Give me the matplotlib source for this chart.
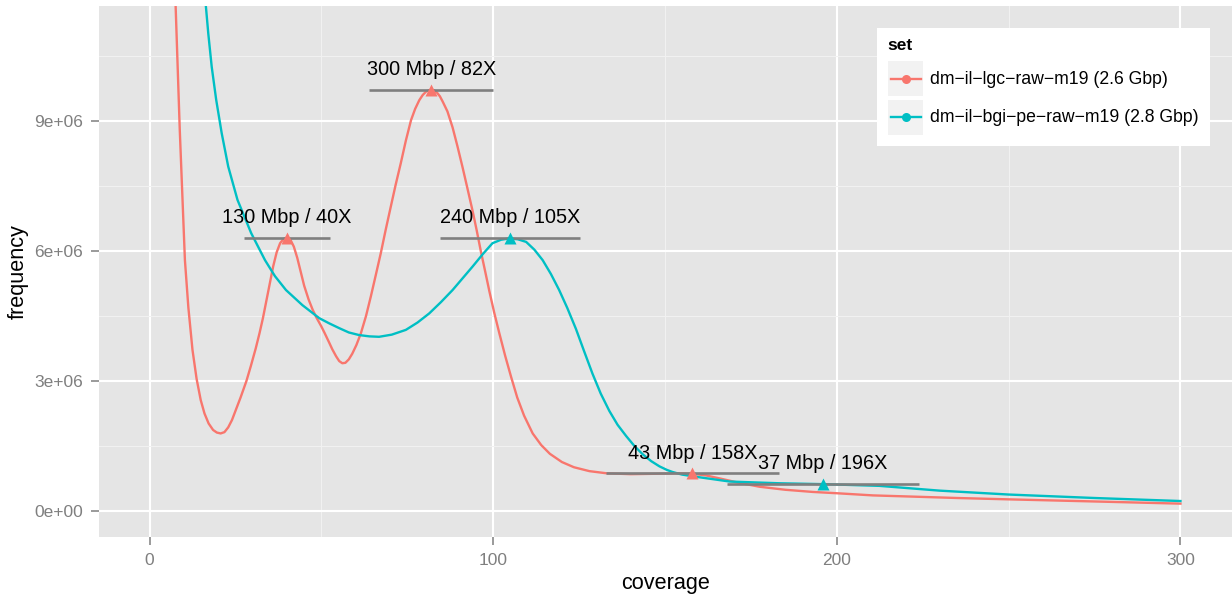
import matplotlib
matplotlib.use("Agg")
import matplotlib.pyplot as plt
from matplotlib.lines import Line2D
from matplotlib.patches import Rectangle
from matplotlib.ticker import FuncFormatter, MultipleLocator

plt.rcParams['font.family'] = ['Liberation Sans', 'DejaVu Sans']

set_names = ["dm−il−lgc−raw−m19 (2.6 Gbp)", "dm−il−bgi−pe−raw−m19 (2.8 Gbp)"]
set_colors = ["#F8766D", "#00BFC4"]

# k-mer coverage spectra (frequency in millions)
lgc_cov = [7.3, 7.6, 8.8, 10.3, 11.3, 12.5, 13.7, 14.9, 16.0, 17.2, 18.5, 19.6,
           20.7, 21.8, 22.9, 24.0, 25.2, 26.5, 28.2, 29.5, 30.9, 32.0, 33.0,
           34.0, 35.0, 36.0, 37.0, 38.0, 39.0, 40.0, 41.0, 42.0, 43.0, 44.0,
           45.0, 46.3, 47.5, 48.6, 50.0, 51.0, 52.2, 53.2, 54.3, 55.2, 56.1,
           57.0, 58.0, 59.0, 60.2, 61.5, 63.0, 64.4, 65.8, 67.3, 68.7, 70.2,
           71.6, 73.1, 74.6, 76.1, 77.3, 78.5, 79.5, 80.5, 81.3, 82.0, 82.8,
           83.6, 84.5, 85.3, 86.7, 88.2, 89.6, 91.1, 92.5, 94.0, 95.2, 96.4,
           97.7, 98.9, 100.3, 101.8, 103.5, 105.2, 107.0, 109.0, 111.5, 114.0,
           116.5, 120.0, 123.5, 128.0, 133.0, 140.0, 148.0, 154.0, 158.0,
           162.0, 166.0, 171.0, 177.5, 185.0, 193.0, 200.0, 210.5, 222.9,
           235.0, 249.4, 275.0, 300.0]
lgc_freq = [12.4, 11.65, 8.8, 5.79, 4.70, 3.72, 3.05, 2.56, 2.25, 2.02, 1.87, 1.81,
            1.79, 1.82, 1.93, 2.10, 2.35, 2.62, 3.00, 3.35, 3.75, 4.10, 4.45,
            4.85, 5.25, 5.65, 5.97, 6.18, 6.28, 6.31, 6.26, 6.10, 5.84, 5.52,
            5.20, 4.88, 4.64, 4.46, 4.26, 4.10, 3.90, 3.73, 3.57, 3.46, 3.41,
            3.42, 3.50, 3.63, 3.83, 4.10, 4.50, 4.95, 5.43, 5.95, 6.48, 7.02,
            7.52, 8.02, 8.55, 9.02, 9.28, 9.48, 9.60, 9.68, 9.71, 9.72, 9.71,
            9.66, 9.57, 9.45, 9.22, 8.85, 8.42, 7.93, 7.45, 6.93, 6.48, 6.00,
            5.52, 5.07, 4.58, 4.10, 3.58, 3.10, 2.62, 2.20, 1.79, 1.52,
            1.32, 1.13, 1.01, 0.92, 0.87, 0.85, 0.86, 0.87, 0.86,
            0.82, 0.75, 0.66, 0.56, 0.49, 0.44, 0.41, 0.36, 0.33,
            0.30, 0.27, 0.22, 0.17]

bgi_cov = [16.0, 16.4, 17.1, 18.1, 19.4, 21.0, 22.9, 25.6, 29.6, 33.6, 36.5,
           39.7, 44.5, 49.4, 52.3, 55.2, 58.0, 61.0, 64.0, 66.8, 70.5, 74.6,
           78.0, 81.4, 84.8, 88.2, 91.1, 94.0, 97.0, 99.8, 102.3, 104.7, 107.2,
           109.6, 112.0, 114.4, 116.8, 119.2, 121.6, 124.1, 126.5, 128.9,
           131.3, 133.8, 136.2, 138.7, 141.1, 143.5, 146.0, 148.4, 150.5, 152.2,
           155.0, 159.0, 168.8, 183.3, 195.9, 212.4, 229.9, 250.0, 275.0, 300.0]
bgi_freq = [12.4, 11.65, 11.02, 10.25, 9.49, 8.72, 7.95, 7.18, 6.41, 5.79, 5.42,
            5.10, 4.75, 4.45, 4.33, 4.22, 4.12, 4.06, 4.03, 4.02, 4.07, 4.18,
            4.35, 4.56, 4.82, 5.10, 5.37, 5.64, 5.93, 6.18, 6.26, 6.29, 6.27,
            6.21, 6.03, 5.79, 5.47, 5.10, 4.68, 4.20, 3.68, 3.17,
            2.71, 2.31, 1.99, 1.73, 1.50, 1.31, 1.15, 1.03, 0.95, 0.90,
            0.84, 0.79, 0.68, 0.64, 0.62, 0.58, 0.47, 0.38, 0.30, 0.23]

# detected peaks
peak_set = [0, 0, 1, 0, 1]
peak_cov = [40, 82, 105, 158, 196]
peak_freq = [6.31, 9.72, 6.31, 0.87, 0.62]
peak_halfwidth = [12.6, 18.0, 20.4, 25.1, 28.0]
peak_labels = ["130 Mbp / 40X", "300 Mbp / 82X", "240 Mbp / 105X",
               "43 Mbp / 158X", "37 Mbp / 196X"]

W, H = 1232, 597
fig = plt.figure(figsize=(W / 100, H / 100), dpi=100)
ax = fig.add_axes([99 / W, 1 - 537 / H, (W - 99) / W, (537 - 6) / H])
ax.set_facecolor("#E5E5E5")
for s in ax.spines.values():
    s.set_visible(False)

series = [(lgc_cov, lgc_freq), (bgi_cov, bgi_freq)]
for (cov, freq), col in zip(series, set_colors):
    ax.plot(cov, [f * 1e6 for f in freq], color=col, lw=1.7, zorder=3,
            solid_joinstyle="round")

for i in range(len(peak_cov)):
    x, y = peak_cov[i], peak_freq[i] * 1e6
    ax.plot([x - peak_halfwidth[i], x + peak_halfwidth[i]], [y, y],
            color="#7F7F7F", lw=1.9, zorder=4, solid_capstyle="butt")
    ax.plot(x, y, marker="^", ms=8, color=set_colors[peak_set[i]],
            mec="none", zorder=5)
    ax.annotate(peak_labels[i], (x, y), xytext=(0, 14.5),
                textcoords="offset points", ha="center", va="center",
                fontsize=14.3, color="black", zorder=6)

ax.set_xlim(-14.7, 315.0)
ax.set_ylim(-0.6e6, 11.654e6)
ax.xaxis.set_major_locator(MultipleLocator(100))
ax.xaxis.set_minor_locator(MultipleLocator(50))
ax.yaxis.set_major_locator(MultipleLocator(3e6))
ax.yaxis.set_minor_locator(MultipleLocator(1.5e6))
ax.yaxis.set_major_formatter(FuncFormatter(lambda v, p: f"{v:.0e}"))
ax.grid(which="major", color="white", lw=1.5)
ax.grid(which="minor", color="#F2F2F2", lw=0.7)
ax.set_axisbelow(True)
ax.tick_params(which="major", length=6, width=1.1, color="#7F7F7F",
               labelcolor="#7F7F7F", labelsize=12.5, pad=5.5)
ax.tick_params(which="minor", length=0)

ax.set_xlabel("coverage", fontsize=15.6)
ax.set_ylabel("frequency", fontsize=15.6)
ax.xaxis.set_label_coords(0.5, (537 - 583) / 531)
ax.xaxis.label.set_va("center")
ax.yaxis.set_label_coords((18 - 99) / (W - 99), 0.5)
ax.yaxis.label.set_va("center")


def fx(px):
    return px / W


def fy(py):
    return 1 - py / H


# legend box
fig.add_artist(Rectangle((fx(877), fy(146)), fx(1210) - fx(877), fy(28) - fy(146),
                         transform=fig.transFigure, facecolor="white",
                         edgecolor="none", zorder=10))
fig.text(fx(887), fy(45), "set", fontsize=12.5, fontweight="bold",
         ha="left", va="center", zorder=11)
for k, (name, col) in enumerate(zip(set_names, set_colors)):
    cy = 79 + k * 38
    fig.add_artist(Rectangle((fx(888), fy(cy + 17.5)), fx(923) - fx(888), 35 / H,
                             transform=fig.transFigure, facecolor="#F2F2F2",
                             edgecolor="none", zorder=11))
    fig.add_artist(Line2D([fx(890.5), fx(920.5)], [fy(cy), fy(cy)],
                          transform=fig.transFigure, color=col, lw=1.7,
                          marker=None, zorder=12))
    fig.add_artist(Line2D([fx(905.5)], [fy(cy)], transform=fig.transFigure,
                          color=col, marker="o", ms=6.5, mec="none", zorder=13))
    fig.text(fx(930), fy(cy), name, fontsize=12.7, ha="left", va="center",
             zorder=12)

fig.savefig("out.png", dpi=100)
